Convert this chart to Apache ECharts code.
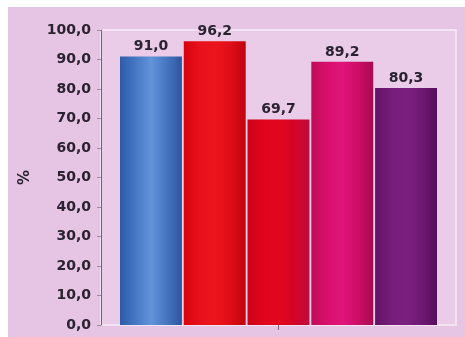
<!DOCTYPE html>
<html>
<head>
<meta charset="utf-8">
<style>
  html, body { margin: 0; padding: 0; background: #ffffff; }
  #chart { width: 465px; height: 337px; }
</style>
<script src="https://cdn.jsdelivr.net/npm/echarts@6/dist/echarts.min.js"></script>
</head>
<body>
<div id="chart"></div>
<script>
// Percent values, one bar per group
const categories = [''];
const values = [91.0, 96.2, 69.7, 89.2, 80.3];
const yTicks = { min: 0, max: 100, interval: 10 };
const yName = '%';

// Horizontal gradient stops giving each bar a rounded, cylinder-like shading
const barShades = [
  ['#2f5ca8', '#4577c4', '#6393d8', '#4676c2', '#2c569e'],
  ['#d6040e', '#e8101a', '#ec141c', '#e00e18', '#c0020e'],
  ['#cc0218', '#e0041c', '#e2061e', '#d40424', '#c00a40'],
  ['#c00c58', '#d8106c', '#e0147a', '#cc0e66', '#a80a52'],
  ['#621466', '#761c7a', '#7c2080', '#6e1872', '#560e5c']
];

function fmt(v) { return v.toFixed(1).replace('.', ','); }

function gradient(stops) {
  return {
    type: 'linear', x: 0, y: 0, x2: 1, y2: 0,
    colorStops: stops.map((c, i) => ({ offset: i / (stops.length - 1), color: c }))
  };
}

const font = 'DejaVu Sans';
const textColor = '#2a2230';

const series = values.map((v, i) => ({
  type: 'bar',
  data: [v],
  barGap: '3%',
  barCategoryGap: '10.7%',
  itemStyle: { color: gradient(barShades[i]) },
  label: {
    show: true,
    position: 'top',
    distance: 3,
    formatter: p => fmt(p.value),
    color: textColor,
    fontFamily: font,
    fontWeight: 'bold',
    fontSize: 14
  }
}));

const chart = echarts.init(document.getElementById('chart'), null, { renderer: 'canvas' });
chart.setOption({
  animation: false,
  backgroundColor: '#ffffff',
  graphic: [{
    type: 'rect',
    z: -10,
    shape: { x: 8, y: 7, width: 457, height: 330 },
    style: { fill: '#e6c4e3' },
    silent: true
  }],
  grid: {
    left: 101, right: 9, top: 30, bottom: 12,
    show: true,
    backgroundColor: '#eacbe8',
    borderColor: '#f4e4f3',
    borderWidth: 2
  },
  xAxis: {
    type: 'category',
    data: categories,
    axisLine: { show: false },
    axisTick: { show: true, alignWithLabel: true, length: 5, lineStyle: { color: '#7a6a7a' } },
    axisLabel: { show: false }
  },
  yAxis: {
    type: 'value',
    min: yTicks.min,
    max: yTicks.max,
    interval: yTicks.interval,
    name: yName,
    nameLocation: 'middle',
    nameGap: 68,
    nameRotate: 90,
    nameTextStyle: { fontFamily: font, fontWeight: 'bold', fontSize: 15, color: textColor },
    axisLine: { show: true, lineStyle: { color: '#6e6470', width: 1 } },
    axisTick: { show: true, length: 4, lineStyle: { color: '#9a8a9a' } },
    splitLine: { show: false },
    axisLabel: {
      margin: 10,
      formatter: v => fmt(v),
      fontFamily: font,
      fontWeight: 'bold',
      fontSize: 14,
      color: textColor
    }
  },
  series: series
});
</script>
</body>
</html>
